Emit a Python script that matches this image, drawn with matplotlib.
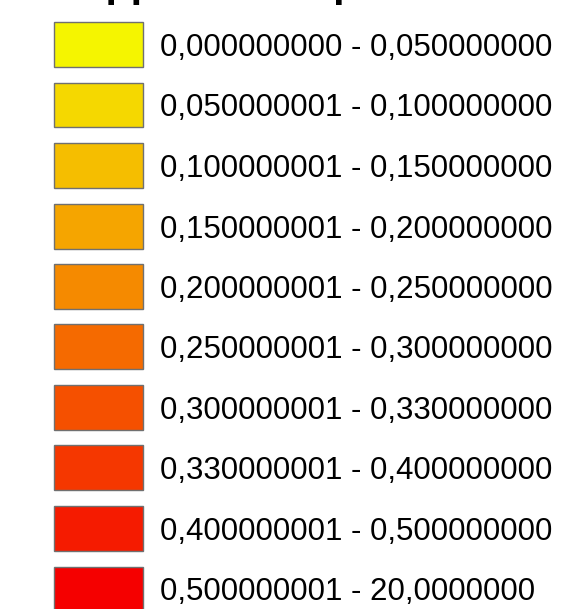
import matplotlib.pyplot as plt
import numpy as np

plt.rcParams['font.family'] = ['Liberation Sans', 'DejaVu Sans']

# classes de la légende
labels = ['0,000000000 - 0,050000000', '0,050000001 - 0,100000000',
          '0,100000001 - 0,150000000', '0,150000001 - 0,200000000',
          '0,200000001 - 0,250000000', '0,250000001 - 0,300000000',
          '0,300000001 - 0,330000000', '0,330000001 - 0,400000000',
          '0,400000001 - 0,500000000', '0,500000001 - 20,0000000']
colors = ['#f5f500', '#f5d800', '#f5be00', '#f5a500', '#f58a00',
          '#f56a00', '#f55000', '#f53700', '#f51b00', '#f50000']
title = 'Rapport entre parcelles'

fig = plt.figure(figsize=(5.63, 6.09), dpi=100)
ax = fig.add_axes([0, 0, 1, 1])
ax.set_xlim(0, 563)
# une ligne = 60.5 px, centre de la première à 44.5 px du haut
ax.set_ylim((609 - 44.5) / 60.5, -44.5 / 60.5)
ax.axis('off')

y = np.arange(len(labels))
ax.barh(y, 89, left=54, height=45 / 60.5, color=colors,
        edgecolor='#707070', linewidth=1.0)
for i, lab in enumerate(labels):
    ax.text(160, i + 11.5 / 60.5, lab, fontsize=22.5, va='baseline', ha='left',
            color='black')

ax.text(53, -44.5 / 60.5 - 2.6 / 60.5, title, fontsize=29.5, fontweight='bold',
        va='baseline', ha='left', color='black', clip_on=False)

fig.savefig('out.png', dpi=100)
